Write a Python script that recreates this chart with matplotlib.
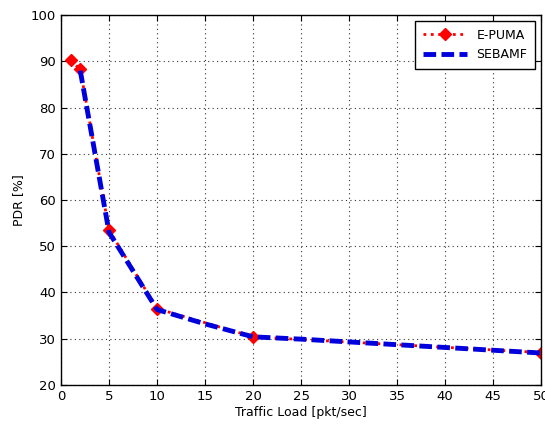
import numpy as np
from matplotlib import pyplot as plt

# traffic load (pkt/sec) and PDR (%)
epuma_x = [1, 2, 5, 10, 20, 50]
epuma_y = [90.2, 88.3, 53.5, 36.5, 30.4, 27.0]

sebamf_x = [2, 5, 10, 15, 20, 25, 30, 35, 40, 45, 50]
sebamf_y = [88.0, 53.0, 36.3, 33.2, 30.4, 29.9, 29.3, 28.7, 28.1, 27.5, 26.9]

xticks = np.arange(0, 51, 5)
yticks = np.arange(20, 101, 10)

fig = plt.figure(figsize=(5.45, 4.32), dpi=100)
ax = fig.add_axes([0.112, 0.109, 0.881, 0.856])

ax.plot(epuma_x, epuma_y, color='red', linestyle=':', linewidth=2,
        marker='D', markersize=6, label='E-PUMA')
ax.plot(sebamf_x, sebamf_y, color='#0000dd', linestyle='--', linewidth=3.5,
        dashes=(2.6, 1.1), label='SEBAMF')

ax.set_xlim([0, 50])
ax.set_ylim([20, 100])
ax.set_xticks(xticks)
ax.set_yticks(yticks)
ax.tick_params(direction='in', labelsize=9.5, length=4, top=True, right=True)
ax.grid(True, color='#333333', linestyle=(0, (1, 3)), linewidth=0.8)
ax.set_xlabel('Traffic Load [pkt/sec]', fontsize=9, labelpad=2)
ax.set_ylabel('PDR [%]', fontsize=9)
for s in ax.spines.values():
    s.set_linewidth(1.0)

leg = ax.legend(loc='upper right', fontsize=9, fancybox=False,
                edgecolor='black', framealpha=1, handlelength=3.5,
                borderaxespad=0.5, borderpad=0.6)
leg.get_frame().set_linewidth(1.0)

plt.savefig('out.png', dpi=100)
